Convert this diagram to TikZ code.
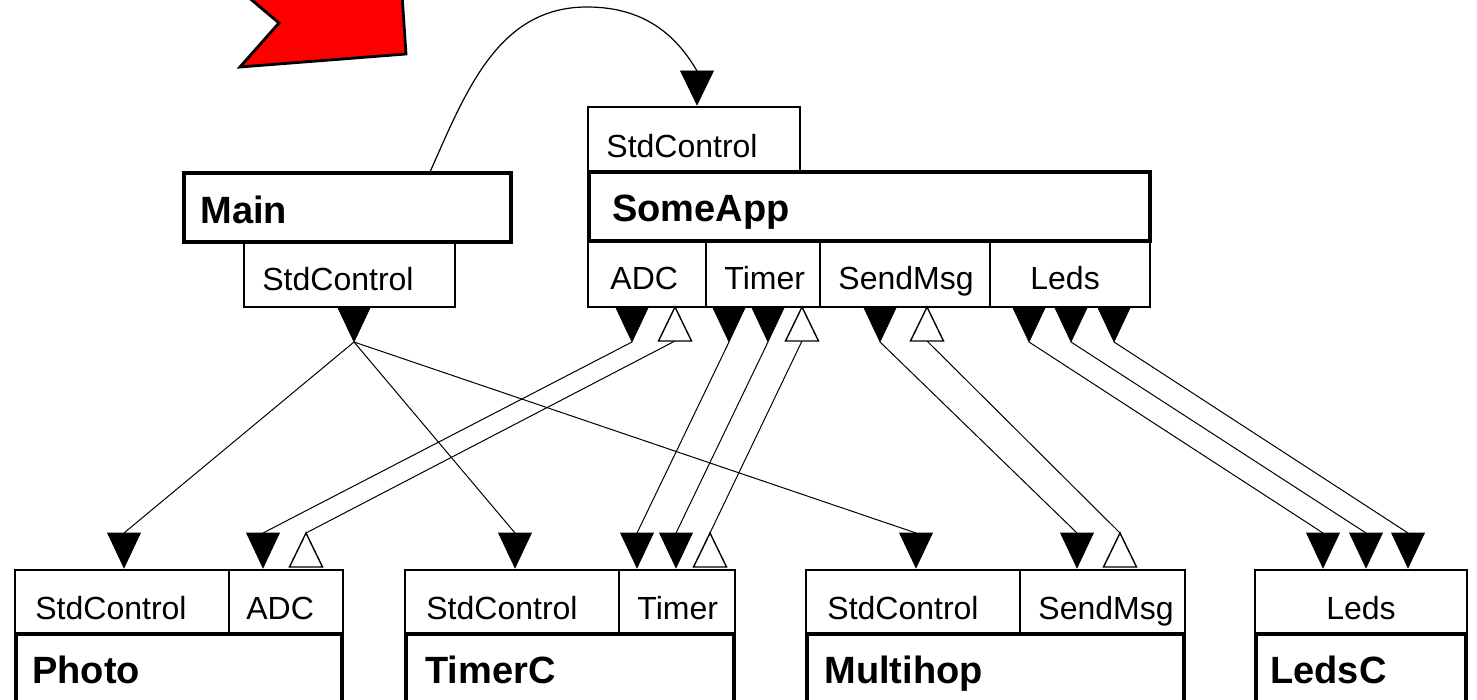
\documentclass[tikz,border=0pt]{standalone}
\usepackage{fontspec}
\setmainfont{Liberation Sans}
\begin{document}
\begin{tikzpicture}[x=0.5pt,y=-0.5pt,
  ibox/.style={draw=black, line width=0.6pt},
  cbox/.style={draw=black, line width=1.8pt},
  itxt/.style={anchor=base west, inner sep=0pt, font=\fontsize{16}{18}\selectfont},
  ctxt/.style={anchor=base west, inner sep=0pt, font=\fontsize{19}{22}\selectfont\bfseries},
  wire/.style={draw=black, line width=0.5pt},
  ftri/.style={fill=black, draw=black, line width=0.3pt},
  htri/.style={fill=white, draw=black, line width=0.7pt}]
\useasboundingbox (0,0) rectangle (1477,700);
\clip (0,0) rectangle (1477,700);

% red arrow
\filldraw[fill=red, draw=black, line width=1.4pt, line join=miter]
  (228,-20) -- (279,23) -- (240,67) -- (406,54) -- (401,-20) -- cycle;

% ---------- Main ----------
\draw[ibox] (244,242) rectangle (455,307);
\draw[cbox] (184,173) rectangle (511,242);
\node[ctxt] (main) at (200,224) {Main};
\node[itxt] (mainsc) at (262,291) {StdControl};

% ---------- SomeApp ----------
\draw[ibox] (588,107) rectangle (800,172);
\draw[ibox] (588,241) rectangle (1150,307);
\draw[ibox] (706,241) -- (706,307);
\draw[ibox] (820,241) -- (820,307);
\draw[ibox] (990,241) -- (990,307);
\draw[cbox] (589,172) rectangle (1150,241);
\node[ctxt] (someapp) at (612,222) {SomeApp};
\node[itxt] (sasc) at (606,158) {StdControl};
\node[itxt] (saadc) at (610,290) {ADC};
\node[itxt] (satimer) at (724,290) {Timer};
\node[itxt] (sasend) at (838,290) {SendMsg};
\node[itxt] (saleds) at (1030,290) {Leds};

% ---------- Photo ----------
\draw[ibox] (15,570) rectangle (343,634);
\draw[ibox] (229,570) -- (229,634);
\draw[cbox] (16,634) rectangle (342,720);
\node[ctxt] (photo) at (32,683) {Photo};
\node[itxt] (phsc) at (35,619) {StdControl};
\node[itxt] (phadc) at (246,619) {ADC};

% ---------- TimerC ----------
\draw[ibox] (405,570) rectangle (735,634);
\draw[ibox] (619,570) -- (619,634);
\draw[cbox] (406,634) rectangle (734,720);
\node[ctxt] (timerc) at (425,683) {TimerC};
\node[itxt] (tcsc) at (426,619) {StdControl};
\node[itxt] (tctimer) at (637,619) {Timer};

% ---------- Multihop ----------
\draw[ibox] (806,570) rectangle (1185,634);
\draw[ibox] (1020,570) -- (1020,634);
\draw[cbox] (807,634) rectangle (1184,720);
\node[ctxt] (multihop) at (824,683) {Multihop};
\node[itxt] (mhsc) at (827,619) {StdControl};
\node[itxt] (mhsend) at (1038,619) {SendMsg};

% ---------- LedsC ----------
\draw[ibox] (1255,570) rectangle (1467,634);
\draw[cbox] (1256,634) rectangle (1466,720);
\node[ctxt] (ledsc) at (1270,683) {LedsC};
\node[itxt, anchor=base] (lcleds) at (1361,619) {Leds};

% ---------- coordinates ----------
% top, filled (tips)
\coordinate (tMain) at (354,342);
\coordinate (tADC) at (632,342);
\coordinate (tT1) at (729,342);
\coordinate (tT2) at (768,342);
\coordinate (tSend) at (880,342);
\coordinate (tL1) at (1029,342);
\coordinate (tL2) at (1071,342);
\coordinate (tL3) at (1114,342);
% top, hollow (bases)
\coordinate (hADC) at (675,341);
\coordinate (hT) at (802,341);
\coordinate (hSend) at (927,341);
% bottom, filled (bases)
\coordinate (bPhSC) at (124,533);
\coordinate (bPhADC) at (263,533);
\coordinate (bTcSC) at (515,533);
\coordinate (bT1) at (637,533);
\coordinate (bT2) at (676,533);
\coordinate (bMhSC) at (916,533);
\coordinate (bSend) at (1077,533);
\coordinate (bL1) at (1323,533);
\coordinate (bL2) at (1366,533);
\coordinate (bL3) at (1408,533);
% bottom, hollow (apexes)
\coordinate (aADC) at (306,533);
\coordinate (aT) at (710,533);
\coordinate (aSend) at (1120,533);
% curve end (base of arrow into SomeApp StdControl)
\coordinate (cStart) at (430,172);
\coordinate (cEnd) at (697,71);

% ---------- connectors ----------
\draw[wire] (tMain) -- (bPhSC);
\draw[wire] (tMain) -- (bTcSC);
\draw[wire] (tMain) -- (bMhSC);
\draw[wire] (tADC) -- (bPhADC);
\draw[wire] (aADC) -- (hADC);
\draw[wire] (tT1) -- (bT1);
\draw[wire] (tT2) -- (bT2);
\draw[wire] (aT) -- (hT);
\draw[wire] (tSend) -- (bSend);
\draw[wire] (aSend) -- (hSend);
\draw[wire] (tL1) -- (bL1);
\draw[wire] (tL2) -- (bL2);
\draw[wire] (tL3) -- (bL3);
\draw[wire, line width=0.6pt] (cStart) to[out=66,in=180] (587,7) to[out=0,in=120] (cEnd);

% ---------- triangles ----------
% filled at top: tip at coordinate, base 35 above
\foreach \c in {tMain,tADC,tT1,tT2,tSend,tL1,tL2,tL3}
  \filldraw[ftri] (\c) -- ++(-16.5,-35) -- ++(33,0) -- cycle;
% hollow at top: base at coordinate, apex 34 above
\foreach \c in {hADC,hT,hSend}
  \filldraw[htri] (\c) ++(-16.5,0) -- ++(33,0) -- ++(-16.5,-34) -- cycle;
% filled at bottom: base at coordinate, tip 35 below
\foreach \c in {bPhSC,bPhADC,bTcSC,bT1,bT2,bMhSC,bSend,bL1,bL2,bL3}
  \filldraw[ftri] (\c) ++(-16.5,0) -- ++(33,0) -- ++(-16.5,35) -- cycle;
% hollow at bottom: apex at coordinate, base 34 below
\foreach \c in {aADC,aT,aSend}
  \filldraw[htri] (\c) -- ++(-16.5,34) -- ++(33,0) -- cycle;
% arrow into SomeApp StdControl
\filldraw[ftri] (cEnd) ++(-16.5,0) -- ++(33,0) -- ++(-16.5,34) -- cycle;
\end{tikzpicture}
\end{document}
